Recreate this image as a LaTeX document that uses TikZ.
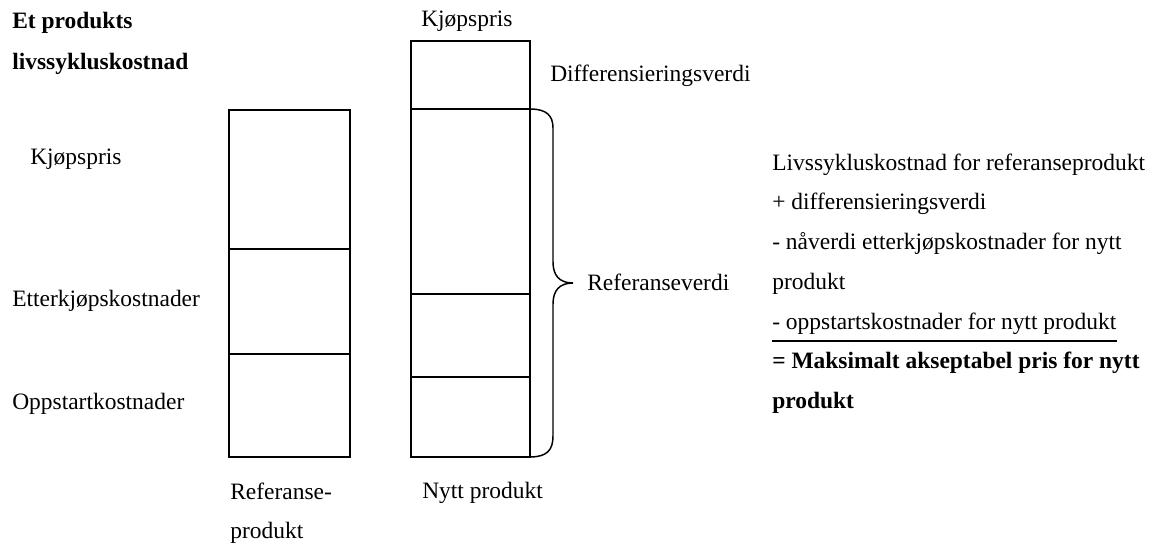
\documentclass[tikz,border=0pt]{standalone}
\usepackage{fontspec}
\setmainfont{Liberation Serif}
\begin{document}
\begin{tikzpicture}[x=0.75pt,y=-0.75pt,
  lbl/.style={anchor=base west,inner sep=0pt,font=\fontsize{17.6}{21}\selectfont},
  blbl/.style={anchor=base west,inner sep=0pt,font=\fontsize{17.6}{21}\selectfont\bfseries},
  boxline/.style={line width=1.1pt},
  bracestyle/.style={line width=1.1pt}
]
\useasboundingbox (0,0) rectangle (1163,545);

% reference product column
\coordinate (rTL) at (229,110);
\coordinate (rBR) at (350,457);
\draw[boxline] (rTL) rectangle (rBR);
\coordinate (r1a) at (229,249); \coordinate (r1b) at (350,249);
\coordinate (r2a) at (229,354); \coordinate (r2b) at (350,354);
\draw[boxline] (r1a) -- (r1b);
\draw[boxline] (r2a) -- (r2b);

% new product column
\coordinate (nTL) at (411,41);
\coordinate (nBR) at (530,457);
\draw[boxline] (nTL) rectangle (nBR);
\coordinate (n1a) at (411,109); \coordinate (n1b) at (530,109);
\coordinate (n2a) at (411,294); \coordinate (n2b) at (530,294);
\coordinate (n3a) at (411,377); \coordinate (n3b) at (530,377);
\draw[boxline] (n1a) -- (n1b);
\draw[boxline] (n2a) -- (n2b);
\draw[boxline] (n3a) -- (n3b);

% brace
\coordinate (btip) at (573,283);
\draw[bracestyle] (n1b) .. controls (547,109) and (553,116) .. (553,128)
  -- (553,262) .. controls (553,275) and (559,283) .. (btip)
  .. controls (559,283) and (553,291) .. (553,304)
  -- (553,436) .. controls (553,450) and (547,457) .. (nBR);

% left labels
\node[blbl] (title1) at (12,29) {Et produkts};
\node[blbl] (title2) at (12,70) {livssykluskostnad};
\node[lbl] (kjopL) at (30,165) {Kjøpspris};
\node[lbl] (etter) at (12,306) {Etterkjøpskostnader};
\node[lbl] (oppst) at (12,409) {Oppstartkostnader};
\node[lbl] (ref1) at (230,499) {Referanse-};
\node[lbl] (ref2) at (230,538) {produkt};

% new product labels
\node[lbl] (kjopR) at (421,27) {Kjøpspris};
\node[lbl] (diff) at (550,82) {Differensieringsverdi};
\node[lbl] (refv) at (587,291) {Referanseverdi};
\node[lbl] (nytt) at (422,498) {Nytt produkt};

% right-hand calculation
\node[lbl] (c1) at (772,171) {Livssykluskostnad for referanseprodukt};
\node[lbl] (c2) at (772,210) {+ differensieringsverdi};
\node[lbl] (c3) at (772,250) {- nåverdi etterkjøpskostnader for nytt};
\node[lbl] (c4) at (772,289) {produkt};
\node[lbl] (c5) at (772,329) {- oppstartskostnader for nytt produkt};
\draw[line width=1.1pt] ([yshift=-9pt]c5.base west) -- ([yshift=-9pt]c5.base east);
\node[blbl] (c6) at (772,368) {= Maksimalt akseptabel pris for nytt};
\node[blbl] (c7) at (772,408) {produkt};
\end{tikzpicture}
\end{document}
